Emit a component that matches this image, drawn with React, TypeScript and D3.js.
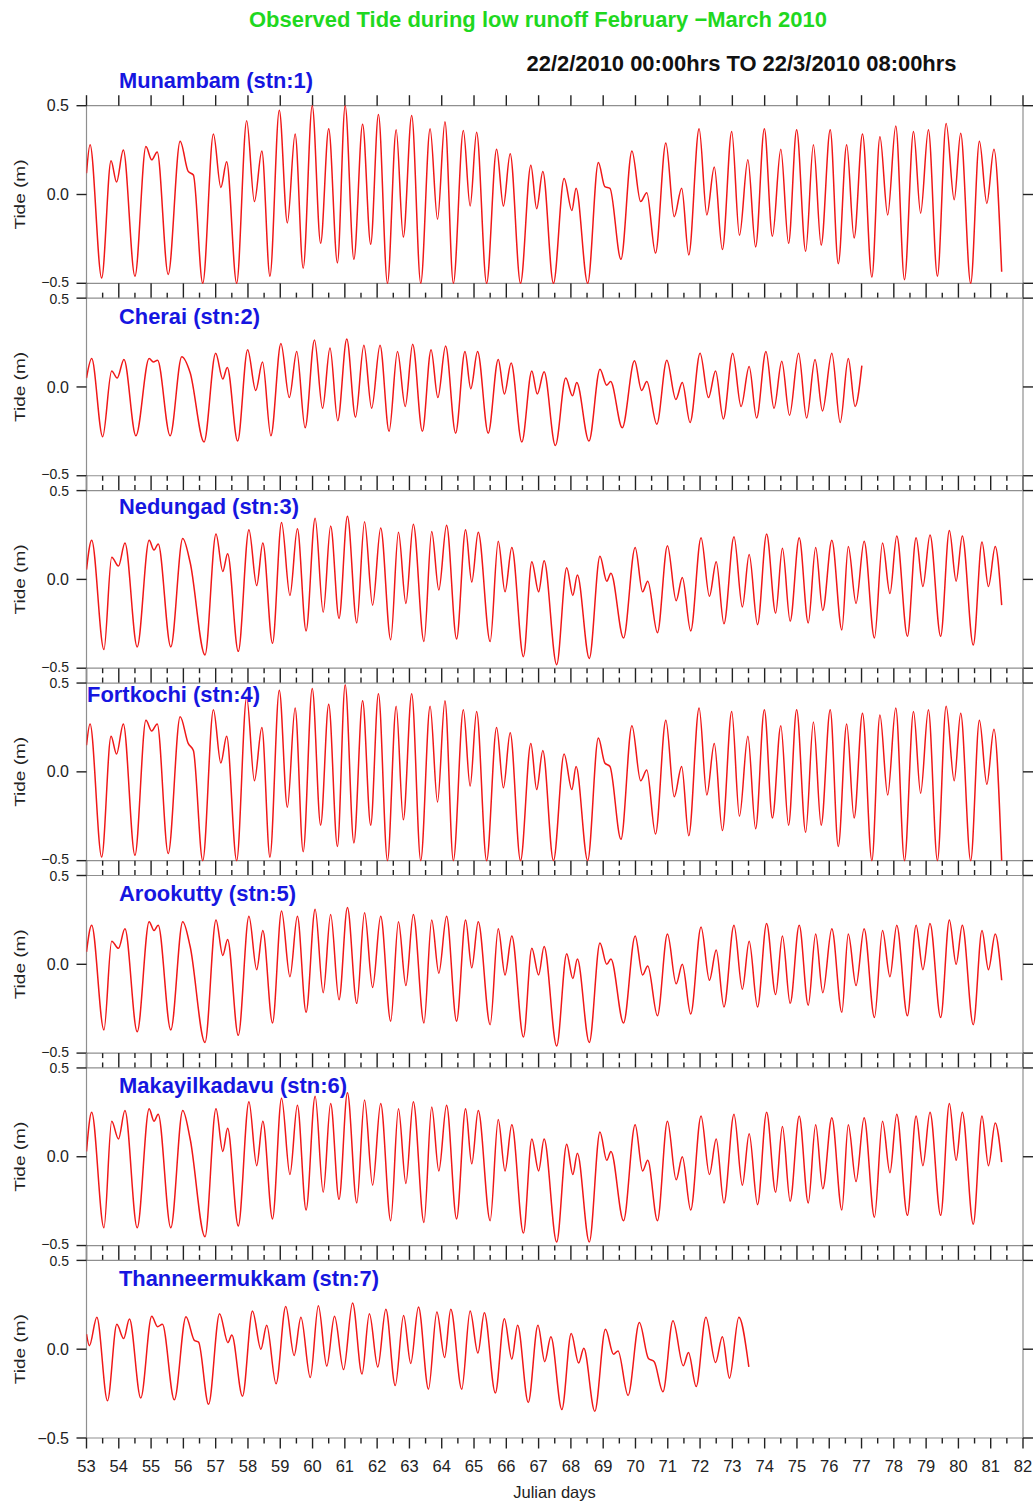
import React from 'react';
import * as d3 from 'd3';

// Munambam (stn:1)
const munambamDays = [53.0, 53.11, 53.47, 53.76, 53.93, 54.14, 54.5, 54.84, 55.02, 55.19, 55.53, 55.9, 56.15, 56.31, 56.6, 56.93, 57.16, 57.34, 57.65, 57.96, 58.2, 58.43, 58.68, 58.97, 59.22, 59.46, 59.71, 59.99, 60.25, 60.5, 60.77, 61.01, 61.28, 61.55, 61.8, 62.04, 62.32, 62.59, 62.81, 63.07, 63.35, 63.64, 63.87, 64.1, 64.36, 64.67, 64.88, 65.08, 65.39, 65.7, 65.91, 66.12, 66.44, 66.76, 66.94, 67.13, 67.46, 67.79, 68.03, 68.16, 68.52, 68.85, 69.05, 69.21, 69.55, 69.89, 70.16, 70.35, 70.62, 70.94, 71.2, 71.43, 71.65, 71.97, 72.21, 72.44, 72.69, 72.98, 73.22, 73.48, 73.72, 73.99, 74.24, 74.5, 74.74, 74.99, 75.27, 75.51, 75.75, 76.03, 76.28, 76.54, 76.77, 77.03, 77.32, 77.57, 77.81, 78.06, 78.33, 78.61, 78.83, 79.07, 79.35, 79.62, 79.87, 80.07, 80.38, 80.65, 80.88, 81.1, 81.34];
const munambamTide = [0.12, 0.28, -0.47, 0.19, 0.07, 0.25, -0.46, 0.27, 0.195, 0.24, -0.45, 0.3, 0.13, 0.11, -0.5, 0.34, 0.04, 0.185, -0.5, 0.415, -0.04, 0.245, -0.46, 0.475, -0.16, 0.34, -0.415, 0.5, -0.275, 0.37, -0.385, 0.5, -0.365, 0.395, -0.28, 0.45, -0.5, 0.365, -0.24, 0.445, -0.5, 0.37, -0.14, 0.41, -0.5, 0.36, -0.065, 0.35, -0.5, 0.255, -0.065, 0.23, -0.5, 0.165, -0.08, 0.13, -0.5, 0.09, -0.09, 0.035, -0.5, 0.18, 0.045, 0.035, -0.365, 0.245, -0.04, 0.01, -0.33, 0.29, -0.125, 0.035, -0.34, 0.37, -0.115, 0.155, -0.31, 0.355, -0.23, 0.195, -0.295, 0.37, -0.235, 0.255, -0.275, 0.365, -0.32, 0.28, -0.285, 0.365, -0.39, 0.28, -0.245, 0.34, -0.465, 0.325, -0.115, 0.385, -0.48, 0.355, -0.105, 0.365, -0.46, 0.4, -0.03, 0.345, -0.5, 0.3, -0.05, 0.255, -0.435];

// Cherai (stn:2)
const cheraiDays = [53.0, 53.16, 53.5, 53.78, 53.95, 54.16, 54.53, 54.94, 55.07, 55.2, 55.59, 55.95, 56.21, 56.64, 57.0, 57.22, 57.36, 57.68, 57.99, 58.24, 58.45, 58.71, 59.02, 59.28, 59.51, 59.77, 60.06, 60.31, 60.54, 60.78, 61.06, 61.33, 61.59, 61.83, 62.09, 62.37, 62.63, 62.87, 63.1, 63.4, 63.67, 63.88, 64.12, 64.43, 64.72, 64.9, 65.11, 65.44, 65.75, 65.94, 66.15, 66.48, 66.79, 66.96, 67.17, 67.52, 67.84, 68.05, 68.18, 68.56, 68.9, 69.11, 69.23, 69.59, 69.97, 70.19, 70.35, 70.66, 70.97, 71.25, 71.45, 71.69, 72.0, 72.26, 72.48, 72.72, 73.01, 73.27, 73.52, 73.75, 74.04, 74.29, 74.53, 74.77, 75.05, 75.3, 75.56, 75.79, 76.08, 76.34, 76.59, 76.8, 77.01];
const cheraiTide = [0.05, 0.16, -0.28, 0.09, 0.05, 0.155, -0.275, 0.16, 0.14, 0.15, -0.275, 0.17, 0.08, -0.31, 0.19, 0.045, 0.11, -0.305, 0.21, -0.02, 0.14, -0.275, 0.245, -0.06, 0.2, -0.23, 0.265, -0.12, 0.22, -0.19, 0.27, -0.17, 0.235, -0.12, 0.235, -0.25, 0.2, -0.11, 0.24, -0.25, 0.21, -0.06, 0.23, -0.26, 0.2, -0.01, 0.2, -0.26, 0.155, -0.04, 0.135, -0.31, 0.09, -0.04, 0.085, -0.33, 0.05, -0.05, 0.025, -0.305, 0.1, 0.01, 0.03, -0.23, 0.147, -0.02, 0.03, -0.21, 0.15, -0.07, 0.025, -0.2, 0.19, -0.06, 0.09, -0.18, 0.19, -0.11, 0.115, -0.175, 0.2, -0.12, 0.145, -0.16, 0.19, -0.175, 0.155, -0.135, 0.19, -0.2, 0.16, -0.11, 0.12];

// Nedungad (stn:3)
const nedungadDays = [53.0, 53.16, 53.54, 53.78, 53.99, 54.19, 54.57, 54.94, 55.09, 55.22, 55.61, 55.98, 56.21, 56.67, 57.01, 57.22, 57.37, 57.7, 58.03, 58.27, 58.46, 58.76, 59.04, 59.3, 59.53, 59.8, 60.08, 60.33, 60.56, 60.82, 61.08, 61.37, 61.61, 61.86, 62.11, 62.42, 62.66, 62.89, 63.12, 63.45, 63.69, 63.91, 64.15, 64.46, 64.74, 64.93, 65.13, 65.5, 65.75, 65.96, 66.17, 66.53, 66.79, 67.0, 67.17, 67.56, 67.87, 68.06, 68.2, 68.57, 68.9, 69.11, 69.24, 69.63, 69.99, 70.22, 70.38, 70.68, 70.99, 71.26, 71.45, 71.71, 72.03, 72.29, 72.5, 72.74, 73.05, 73.31, 73.52, 73.78, 74.06, 74.34, 74.55, 74.79, 75.07, 75.35, 75.58, 75.8, 76.08, 76.39, 76.59, 76.83, 77.08, 77.4, 77.65, 77.88, 78.09, 78.42, 78.69, 78.9, 79.12, 79.45, 79.72, 79.93, 80.12, 80.46, 80.73, 80.93, 81.14, 81.34];
const nedungadTide = [0.055, 0.22, -0.395, 0.125, 0.075, 0.205, -0.38, 0.22, 0.165, 0.2, -0.38, 0.23, 0.095, -0.425, 0.255, 0.045, 0.145, -0.405, 0.28, -0.035, 0.205, -0.36, 0.32, -0.09, 0.285, -0.29, 0.345, -0.185, 0.3, -0.22, 0.355, -0.245, 0.325, -0.145, 0.29, -0.34, 0.265, -0.135, 0.31, -0.35, 0.27, -0.06, 0.305, -0.335, 0.28, -0.015, 0.265, -0.35, 0.215, -0.07, 0.18, -0.435, 0.1, -0.07, 0.105, -0.48, 0.065, -0.09, 0.025, -0.445, 0.13, -0.01, 0.035, -0.33, 0.18, -0.07, -0.01, -0.3, 0.19, -0.12, 0.01, -0.29, 0.235, -0.095, 0.1, -0.25, 0.24, -0.155, 0.14, -0.255, 0.255, -0.19, 0.175, -0.235, 0.235, -0.245, 0.18, -0.175, 0.22, -0.285, 0.185, -0.135, 0.215, -0.33, 0.205, -0.08, 0.245, -0.32, 0.235, -0.04, 0.25, -0.32, 0.275, -0.01, 0.245, -0.37, 0.21, -0.04, 0.185, -0.145];

// Fortkochi (stn:4)
const fortkochiDays = [53.0, 53.11, 53.47, 53.76, 53.93, 54.14, 54.5, 54.84, 55.02, 55.19, 55.53, 55.9, 56.15, 56.31, 56.6, 56.93, 57.16, 57.34, 57.65, 57.96, 58.2, 58.43, 58.68, 58.97, 59.22, 59.46, 59.71, 59.99, 60.25, 60.5, 60.77, 61.01, 61.28, 61.55, 61.8, 62.04, 62.32, 62.59, 62.81, 63.07, 63.35, 63.64, 63.87, 64.1, 64.36, 64.67, 64.88, 65.08, 65.39, 65.7, 65.91, 66.12, 66.44, 66.76, 66.94, 67.13, 67.46, 67.79, 68.03, 68.16, 68.52, 68.85, 69.05, 69.21, 69.55, 69.89, 70.16, 70.35, 70.62, 70.94, 71.2, 71.43, 71.65, 71.97, 72.21, 72.44, 72.69, 72.98, 73.22, 73.48, 73.72, 73.99, 74.24, 74.5, 74.74, 74.99, 75.27, 75.51, 75.75, 76.03, 76.28, 76.54, 76.77, 77.03, 77.32, 77.57, 77.81, 78.06, 78.33, 78.61, 78.83, 79.07, 79.35, 79.62, 79.87, 80.07, 80.38, 80.65, 80.88, 81.1, 81.34];
const fortkochiTide = [0.15, 0.27, -0.48, 0.2, 0.1, 0.27, -0.47, 0.29, 0.23, 0.27, -0.46, 0.31, 0.16, 0.12, -0.5, 0.35, 0.05, 0.2, -0.5, 0.42, -0.05, 0.25, -0.48, 0.46, -0.2, 0.36, -0.45, 0.47, -0.3, 0.38, -0.42, 0.49, -0.4, 0.4, -0.3, 0.44, -0.5, 0.37, -0.27, 0.44, -0.5, 0.37, -0.17, 0.4, -0.5, 0.35, -0.08, 0.34, -0.5, 0.25, -0.09, 0.22, -0.5, 0.16, -0.1, 0.12, -0.5, 0.1, -0.1, 0.03, -0.5, 0.19, 0.05, 0.03, -0.38, 0.26, -0.05, 0.01, -0.35, 0.29, -0.14, 0.03, -0.36, 0.36, -0.13, 0.16, -0.33, 0.34, -0.25, 0.2, -0.32, 0.35, -0.26, 0.26, -0.3, 0.35, -0.34, 0.28, -0.3, 0.35, -0.42, 0.27, -0.26, 0.33, -0.5, 0.32, -0.13, 0.36, -0.5, 0.34, -0.12, 0.35, -0.5, 0.37, -0.05, 0.33, -0.5, 0.29, -0.07, 0.24, -0.5];

// Arookutty (stn:5)
const arookuttyDays = [53.0, 53.16, 53.54, 53.78, 53.99, 54.19, 54.57, 54.94, 55.09, 55.22, 55.61, 55.98, 56.21, 56.67, 57.01, 57.22, 57.37, 57.7, 58.03, 58.27, 58.46, 58.76, 59.04, 59.3, 59.53, 59.8, 60.08, 60.33, 60.56, 60.82, 61.08, 61.37, 61.61, 61.86, 62.11, 62.42, 62.66, 62.89, 63.12, 63.45, 63.69, 63.91, 64.15, 64.46, 64.74, 64.93, 65.13, 65.5, 65.75, 65.96, 66.17, 66.53, 66.79, 67.0, 67.17, 67.56, 67.87, 68.06, 68.2, 68.57, 68.9, 69.11, 69.24, 69.63, 69.99, 70.22, 70.38, 70.68, 70.99, 71.26, 71.45, 71.71, 72.03, 72.29, 72.5, 72.74, 73.05, 73.31, 73.52, 73.78, 74.06, 74.34, 74.55, 74.79, 75.07, 75.35, 75.58, 75.8, 76.08, 76.39, 76.59, 76.83, 77.08, 77.4, 77.65, 77.88, 78.09, 78.42, 78.69, 78.9, 79.12, 79.45, 79.72, 79.93, 80.12, 80.46, 80.73, 80.93, 81.14, 81.34];
const arookuttyTide = [0.07, 0.22, -0.37, 0.13, 0.09, 0.2, -0.38, 0.24, 0.19, 0.22, -0.37, 0.24, 0.1, -0.44, 0.25, 0.05, 0.14, -0.4, 0.27, -0.03, 0.19, -0.33, 0.3, -0.07, 0.27, -0.27, 0.31, -0.16, 0.28, -0.2, 0.32, -0.22, 0.29, -0.13, 0.27, -0.32, 0.24, -0.12, 0.28, -0.33, 0.25, -0.05, 0.27, -0.32, 0.25, -0.02, 0.24, -0.34, 0.2, -0.06, 0.16, -0.41, 0.09, -0.06, 0.1, -0.46, 0.06, -0.08, 0.03, -0.44, 0.12, 0.0, 0.03, -0.33, 0.16, -0.06, -0.01, -0.29, 0.17, -0.11, 0.0, -0.28, 0.21, -0.09, 0.08, -0.24, 0.22, -0.14, 0.13, -0.24, 0.23, -0.17, 0.16, -0.22, 0.22, -0.23, 0.17, -0.16, 0.2, -0.27, 0.17, -0.12, 0.2, -0.3, 0.19, -0.07, 0.22, -0.29, 0.22, -0.03, 0.23, -0.3, 0.25, 0.0, 0.22, -0.34, 0.19, -0.03, 0.17, -0.09];

// Makayilkadavu (stn:6)
const makayilDays = [53.0, 53.16, 53.54, 53.78, 53.99, 54.19, 54.57, 54.94, 55.09, 55.22, 55.61, 55.98, 56.21, 56.67, 57.01, 57.22, 57.37, 57.7, 58.03, 58.27, 58.46, 58.76, 59.04, 59.3, 59.53, 59.8, 60.08, 60.33, 60.56, 60.82, 61.08, 61.37, 61.61, 61.86, 62.11, 62.42, 62.66, 62.89, 63.12, 63.45, 63.69, 63.91, 64.15, 64.46, 64.74, 64.93, 65.13, 65.5, 65.75, 65.96, 66.17, 66.53, 66.79, 67.0, 67.17, 67.56, 67.87, 68.06, 68.2, 68.57, 68.9, 69.11, 69.24, 69.63, 69.99, 70.22, 70.38, 70.68, 70.99, 71.26, 71.45, 71.71, 72.03, 72.29, 72.5, 72.74, 73.05, 73.31, 73.52, 73.78, 74.06, 74.34, 74.55, 74.79, 75.07, 75.35, 75.58, 75.8, 76.08, 76.39, 76.59, 76.83, 77.08, 77.4, 77.65, 77.88, 78.09, 78.42, 78.69, 78.9, 79.12, 79.45, 79.72, 79.93, 80.12, 80.46, 80.73, 80.93, 81.14, 81.34];
const makayilTide = [0.03, 0.25, -0.4, 0.2, 0.1, 0.26, -0.4, 0.27, 0.2, 0.24, -0.4, 0.26, 0.1, -0.45, 0.27, 0.03, 0.16, -0.39, 0.31, -0.05, 0.2, -0.35, 0.33, -0.1, 0.29, -0.3, 0.34, -0.2, 0.3, -0.24, 0.36, -0.26, 0.32, -0.16, 0.3, -0.36, 0.27, -0.15, 0.31, -0.37, 0.28, -0.08, 0.29, -0.35, 0.27, -0.04, 0.26, -0.36, 0.21, -0.08, 0.18, -0.43, 0.1, -0.08, 0.1, -0.48, 0.07, -0.1, 0.02, -0.48, 0.14, -0.02, 0.03, -0.36, 0.18, -0.08, -0.02, -0.36, 0.2, -0.13, 0.0, -0.3, 0.23, -0.1, 0.1, -0.26, 0.24, -0.16, 0.13, -0.27, 0.25, -0.2, 0.17, -0.25, 0.23, -0.26, 0.18, -0.18, 0.22, -0.3, 0.18, -0.14, 0.22, -0.34, 0.2, -0.09, 0.24, -0.33, 0.23, -0.05, 0.25, -0.33, 0.3, -0.02, 0.25, -0.38, 0.23, -0.05, 0.19, -0.03];

// Thanneermukkam (stn:7)
const thanneerDays = [53.0, 53.09, 53.32, 53.65, 53.94, 54.15, 54.33, 54.68, 55.02, 55.2, 55.35, 55.72, 56.08, 56.34, 56.47, 56.78, 57.12, 57.38, 57.5, 57.83, 58.14, 58.4, 58.58, 58.87, 59.17, 59.43, 59.64, 59.93, 60.18, 60.44, 60.68, 60.96, 61.24, 61.53, 61.76, 62.02, 62.27, 62.56, 62.82, 63.04, 63.28, 63.59, 63.85, 64.09, 64.28, 64.62, 64.88, 65.12, 65.32, 65.66, 65.94, 66.17, 66.35, 66.68, 66.98, 67.19, 67.38, 67.72, 68.01, 68.24, 68.4, 68.74, 69.07, 69.32, 69.46, 69.77, 70.12, 70.4, 70.58, 70.85, 71.16, 71.48, 71.64, 71.88, 72.18, 72.48, 72.69, 72.91, 73.2, 73.51];
const thanneerTide = [0.085, 0.02, 0.18, -0.29, 0.14, 0.06, 0.17, -0.275, 0.185, 0.127, 0.14, -0.285, 0.183, 0.05, 0.04, -0.31, 0.2, 0.037, 0.08, -0.265, 0.215, 0.0, 0.135, -0.195, 0.24, -0.035, 0.18, -0.16, 0.245, -0.095, 0.185, -0.115, 0.26, -0.14, 0.2, -0.1, 0.225, -0.205, 0.19, -0.08, 0.237, -0.225, 0.21, -0.047, 0.225, -0.225, 0.215, -0.022, 0.205, -0.247, 0.172, -0.056, 0.135, -0.3, 0.135, -0.07, 0.07, -0.34, 0.088, -0.078, 0.005, -0.35, 0.112, -0.028, -0.01, -0.26, 0.15, -0.052, -0.07, -0.24, 0.16, -0.093, -0.019, -0.21, 0.18, -0.075, 0.07, -0.163, 0.18, -0.1];

const stationNames = ['Munambam (stn:1)', 'Cherai (stn:2)', 'Nedungad (stn:3)', 'Fortkochi (stn:4)', 'Arookutty (stn:5)', 'Makayilkadavu (stn:6)', 'Thanneermukkam (stn:7)'];
const stationDays = [munambamDays, cheraiDays, nedungadDays, fortkochiDays, arookuttyDays, makayilDays, thanneerDays];
const stationTide = [munambamTide, cheraiTide, nedungadTide, fortkochiTide, arookuttyTide, makayilTide, thanneerTide];

const yTicks = [-0.5, 0.0, 0.5];
const majorDays = d3.range(53, 83);
const minorDays = d3.range(53.5, 82, 1);

const W = 1034;
const H = 1503;
const left = 86.5;
const right = 1023;
const firstTop = 105.7;
const pitch = 192.45;
const panelH = 177.6;
const font = '"Liberation Sans", Arial, Helvetica, sans-serif';

// label placement per station: x, baseline offset from panel top, rendered width
const labelX = [119, 119, 119, 87, 119, 119, 119];
const labelDy = [-17.5, 26, 23, 19, 25, 25, 26];
const labelW = [194, 141, 180, 173, 177, 228, 260];

const App = () => {
  const x = d3.scaleLinear().domain([53, 82]).range([left, right]);
  const fmt = (v: number) => (v < 0 ? '\u2212' : '') + Math.abs(v).toFixed(1);

  return (
    <svg width={W} height={H} style={{ position: 'absolute', left: 0, top: 0, display: 'block', background: '#fff' }} fontFamily={font}>
      <defs>
        {stationNames.map((_, i) => (
          <clipPath id={`clip${i}`} key={i}>
            <rect x={left} y={firstTop + i * pitch - 1} width={right - left} height={panelH + 2} />
          </clipPath>
        ))}
      </defs>

      <text x={538} y={27} textAnchor="middle" fontSize={22} fontWeight="bold" fill="#1fd81f" textLength={578} lengthAdjust="spacingAndGlyphs">
        Observed Tide during low runoff February {'\u2212'}March 2010
      </text>
      <text x={526.5} y={70.5} fontSize={22} fontWeight="bold" fill="#111" textLength={430} lengthAdjust="spacingAndGlyphs">
        22/2/2010 00:00hrs TO 22/3/2010 08:00hrs
      </text>

      {stationNames.map((name, i) => {
        const top = firstTop + i * pitch;
        const y = d3.scaleLinear().domain([-0.5, 0.5]).range([top + panelH, top]);
        const days = stationDays[i];
        const line = d3
          .line<number>()
          .x((_, j) => x(days[j]))
          .y((d) => y(d))
          .curve(d3.curveMonotoneX);
        const isFirst = i === 0;
        const isLast = i === stationNames.length - 1;
        return (
          <g key={name}>
            {/* frame */}
            <line x1={left} x2={right} y1={top} y2={top} stroke="#8f8f8f" strokeWidth={1.2} />
            <line x1={left} x2={right} y1={top + panelH} y2={top + panelH} stroke="#8f8f8f" strokeWidth={1.2} />
            <line x1={left} x2={left} y1={top} y2={top + panelH} stroke="#8f8f8f" strokeWidth={1.2} />
            <line x1={right} x2={right} y1={top} y2={top + panelH} stroke="#8f8f8f" strokeWidth={1.2} />
            {i > 0 && (
              <>
                <line x1={left} x2={left} y1={top - (pitch - panelH)} y2={top} stroke="#8f8f8f" strokeWidth={1.2} />
                <line x1={right} x2={right} y1={top - (pitch - panelH)} y2={top} stroke="#8f8f8f" strokeWidth={1.2} />
              </>
            )}

            {/* y ticks and labels; the crowded ±0.5 pairs between panels are a bit smaller */}
            {yTicks.map((t) => {
              let dy = 0;
              let fs = 16;
              if (t === 0.5 && !isFirst) {
                dy = 0.5;
                fs = 14;
              }
              if (t === -0.5 && !isLast) {
                dy = -1.5;
                fs = 14;
              }
              return (
                <g key={t}>
                  <line x1={left - 10} x2={left} y1={y(t)} y2={y(t)} stroke="#222" strokeWidth={1.4} />
                  <line x1={right} x2={right + 10} y1={y(t)} y2={y(t)} stroke="#222" strokeWidth={1.4} />
                  <text x={69} y={y(t) + dy} dy="0.35em" textAnchor="end" fontSize={fs} fill="#222">
                    {fmt(t)}
                  </text>
                </g>
              );
            })}

            <text
              transform={`translate(25,${top + panelH / 2}) rotate(-90)`}
              textAnchor="middle"
              fontSize={14}
              fill="#222"
              textLength={70}
              lengthAdjust="spacingAndGlyphs"
            >
              Tide (m)
            </text>

            {/* top ticks for the first panel */}
            {isFirst &&
              majorDays.map((d) => (
                <line key={d} x1={x(d)} x2={x(d)} y1={top - 10.5} y2={top} stroke="#222" strokeWidth={1.4} />
              ))}

            {/* ticks in the gap below this panel */}
            {!isLast && (
              <g>
                {majorDays.map((d) => (
                  <line key={d} x1={x(d)} x2={x(d)} y1={top + panelH} y2={top + pitch} stroke="#222" strokeWidth={1.4} />
                ))}
                {minorDays.map((d) => (
                  <line key={d} x1={x(d)} x2={x(d)} y1={top + pitch - 5.5} y2={top + pitch} stroke="#222" strokeWidth={1.4} />
                ))}
                {i > 0 &&
                  minorDays.map((d) => (
                    <line key={`u${d}`} x1={x(d)} x2={x(d)} y1={top + panelH} y2={top + panelH + 5} stroke="#222" strokeWidth={1.4} />
                  ))}
              </g>
            )}

            {/* bottom axis */}
            {isLast && (
              <g>
                {majorDays.map((d) => (
                  <g key={d}>
                    <line x1={x(d)} x2={x(d)} y1={top + panelH} y2={top + panelH + 10.5} stroke="#222" strokeWidth={1.4} />
                    <text x={x(d)} y={1471.5} textAnchor="middle" fontSize={16.5} fill="#222">
                      {d}
                    </text>
                  </g>
                ))}
                {minorDays.map((d) => (
                  <line key={`m${d}`} x1={x(d)} x2={x(d)} y1={top + panelH} y2={top + panelH + 5.5} stroke="#222" strokeWidth={1.4} />
                ))}
                <text x={554.5} y={1498} textAnchor="middle" fontSize={16.5} fill="#222">
                  Julian days
                </text>
              </g>
            )}

            <path d={line(stationTide[i]) || ''} fill="none" stroke="#f01818" strokeWidth={1.5} clipPath={`url(#clip${i})`} />

            <text
              x={labelX[i]}
              y={top + labelDy[i]}
              fontSize={22}
              fontWeight="bold"
              fill="#1616e0"
              textLength={labelW[i]}
              lengthAdjust="spacingAndGlyphs"
            >
              {name}
            </text>
          </g>
        );
      })}
    </svg>
  );
};

export default App;
